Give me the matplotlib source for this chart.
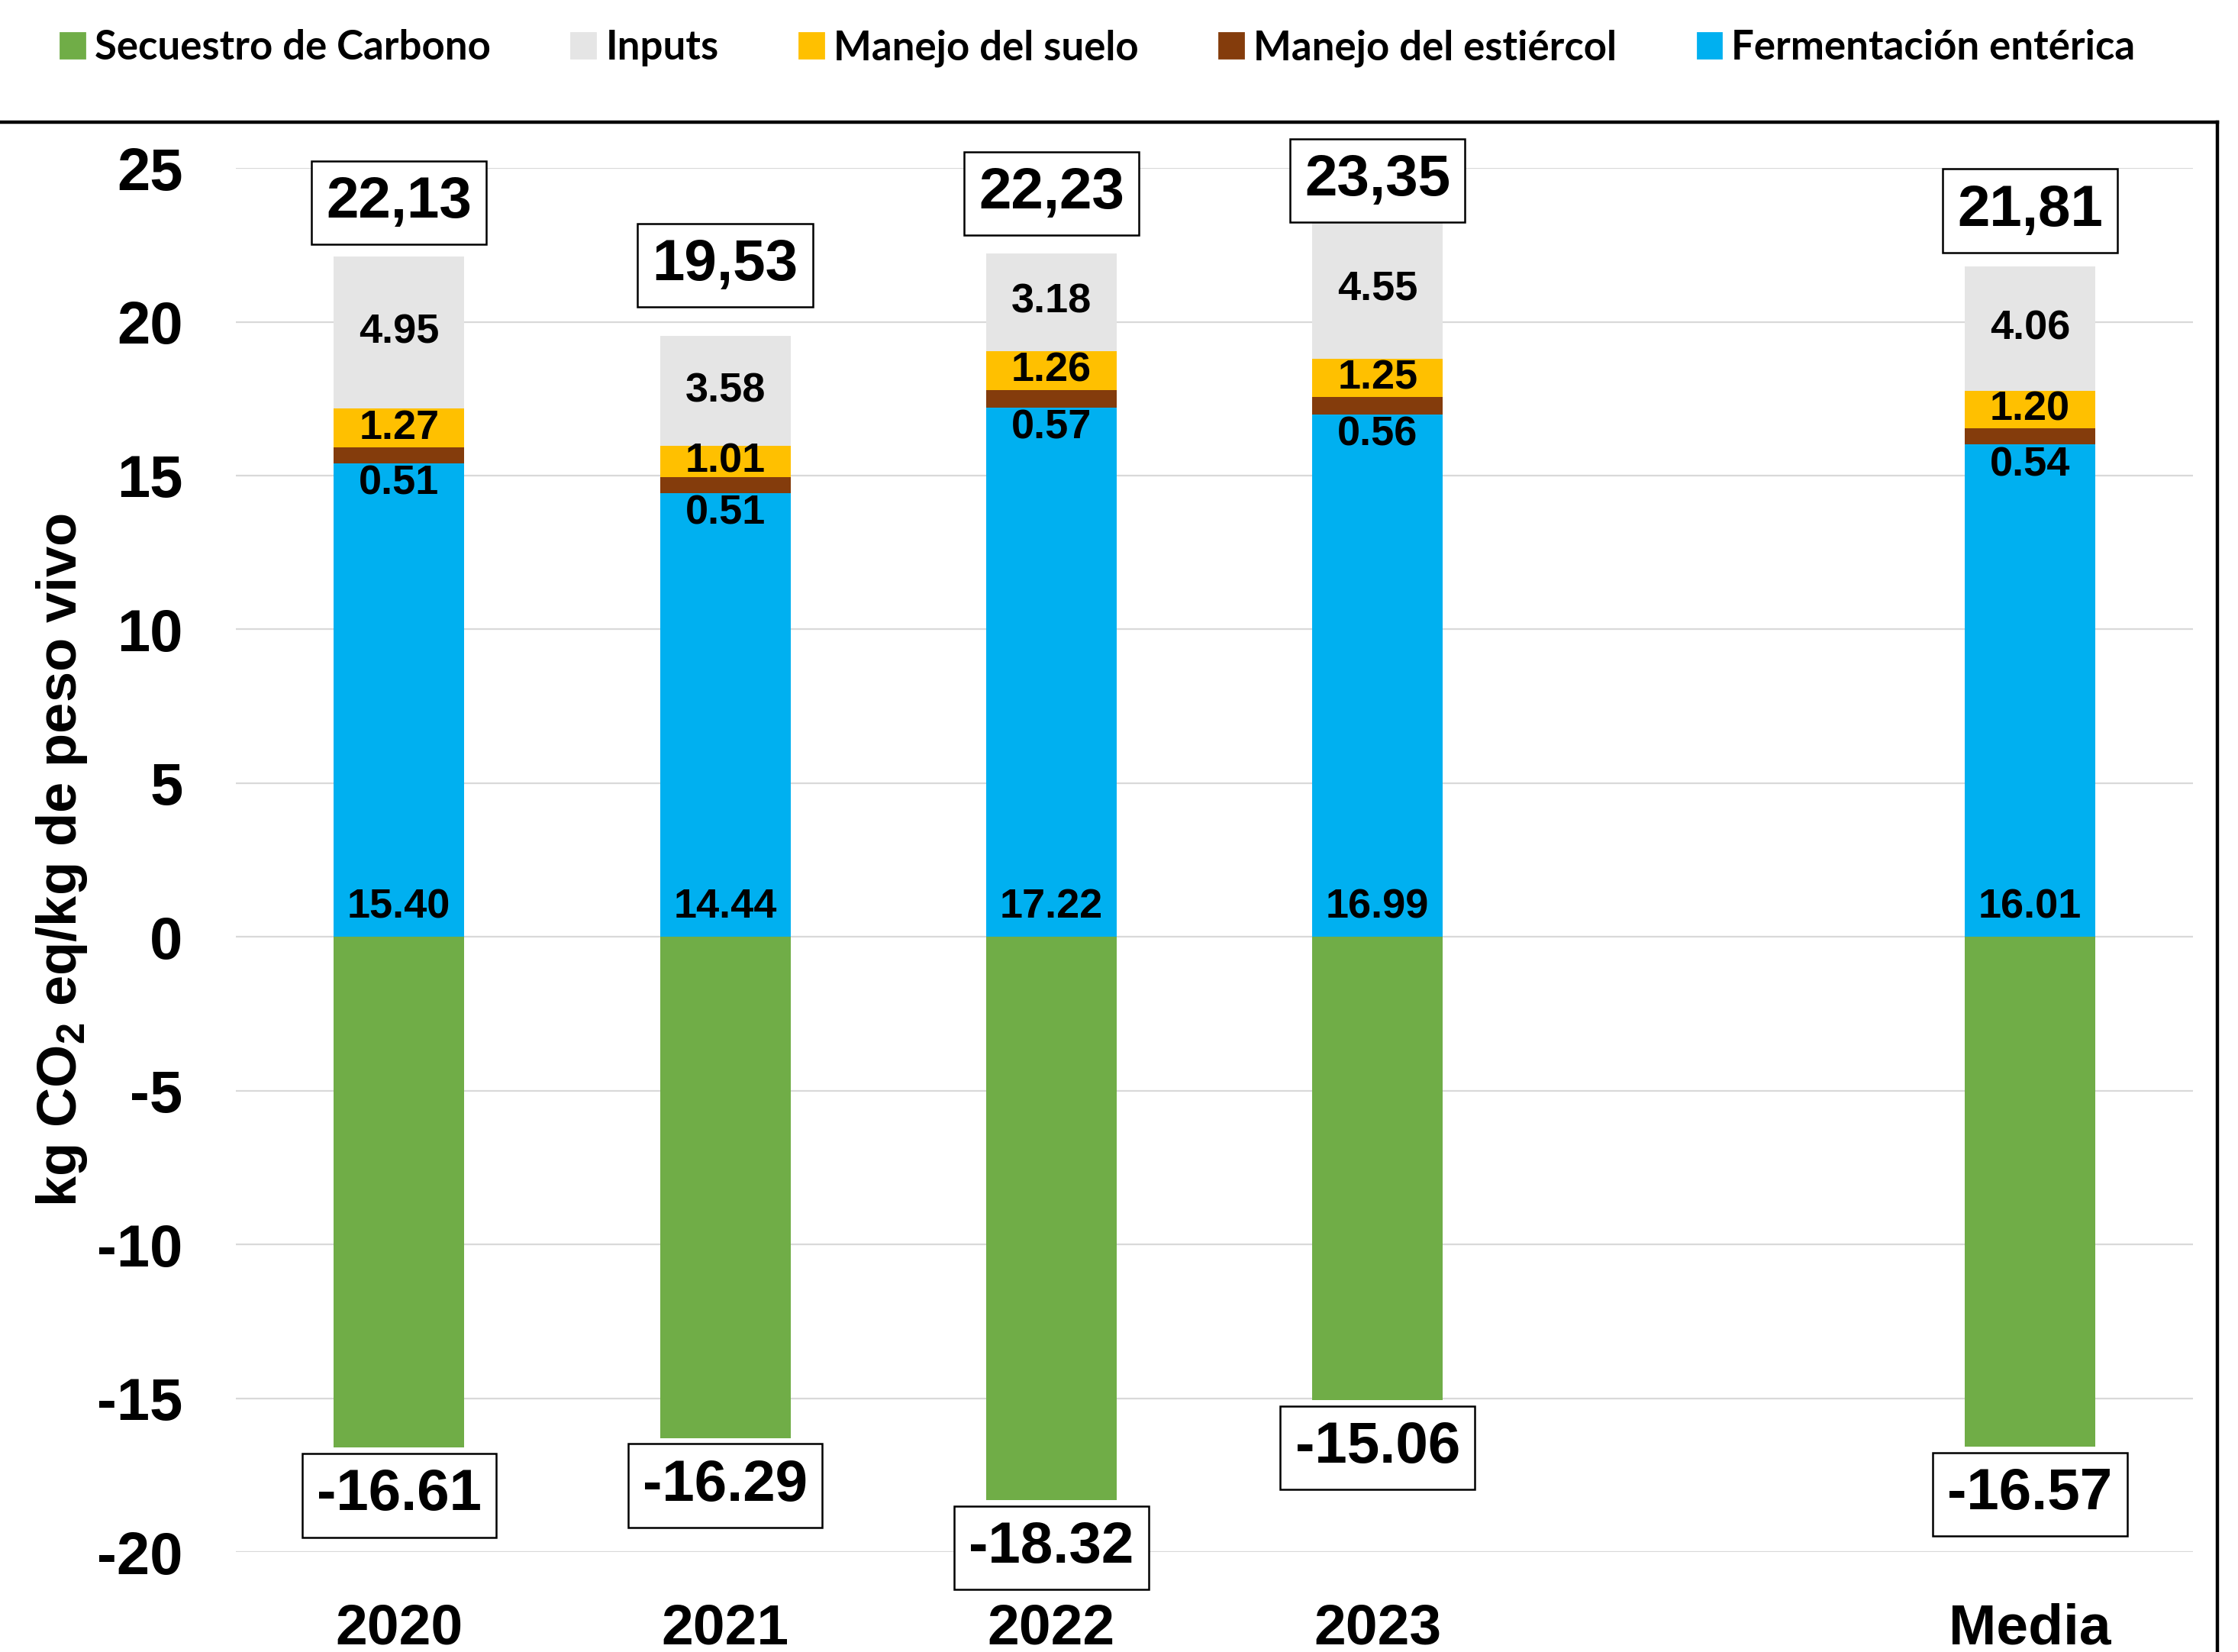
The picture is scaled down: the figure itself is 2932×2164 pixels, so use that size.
import matplotlib
matplotlib.use('Agg')
import numpy as np
import matplotlib.pyplot as plt
from matplotlib.patches import Patch
from matplotlib.lines import Line2D

plt.rcParams['font.family'] = ['Liberation Sans', 'DejaVu Sans']
plt.rcParams['font.weight'] = 'bold'
plt.rcParams['mathtext.fontset'] = 'custom'
plt.rcParams['mathtext.rm'] = 'Liberation Sans:bold'
plt.rcParams['mathtext.bf'] = 'Liberation Sans:bold'

# data
categories = ['2020', '2021', '2022', '2023', 'Media']
x_pos = [0, 1, 2, 3, 5]  # one empty slot before "Media"
enterica = [15.40, 14.44, 17.22, 16.99, 16.01]
estiercol = [0.51, 0.51, 0.57, 0.56, 0.54]
suelo = [1.27, 1.01, 1.26, 1.25, 1.20]
inputs = [4.95, 3.58, 3.18, 4.55, 4.06]
secuestro = [-16.61, -16.29, -18.32, -15.06, -16.57]
totales = [22.13, 19.53, 22.23, 23.35, 21.81]

# vertical offset of the boxed totals above each bar (manual in original)
total_dy = [1.75, 2.3, 1.95, 1.25, 1.8]

c_green = '#70AD47'
c_grey = '#E5E5E5'
c_yellow = '#FFC000'
c_brown = '#843C0C'
c_blue = '#00B0F0'

fig = plt.figure(figsize=(14.66, 10.82), dpi=200)
ax = fig.add_axes([0.1054, 0.0605, 0.8745, 0.8378])

x = np.array(x_pos)
ent = np.array(enterica)
est = np.array(estiercol)
sue = np.array(suelo)
inp = np.array(inputs)
w = 0.4

ax.bar(x, secuestro, w, color=c_green, zorder=2)
ax.bar(x, ent, w, color=c_blue, zorder=2)
ax.bar(x, est, w, bottom=ent, color=c_brown, zorder=2)
ax.bar(x, sue, w, bottom=ent + est, color=c_yellow, zorder=2)
ax.bar(x, inp, w, bottom=ent + est + sue, color=c_grey, zorder=2)

box = dict(boxstyle='square,pad=0.25', fc='white', ec='black', lw=0.9)
for i in range(len(x)):
    # enteric label at base
    ax.text(x[i], 0.35, f'{ent[i]:.2f}', ha='center', va='bottom', fontsize=19.5, zorder=4)
    # manure label just under the brown band
    ax.text(x[i], ent[i] - 0.05, f'{est[i]:.2f}', ha='center', va='top', fontsize=19.5, zorder=4)
    # soil label centred
    ax.text(x[i], ent[i] + est[i] + sue[i] / 2, f'{sue[i]:.2f}', ha='center', va='center',
            fontsize=19.5, zorder=4)
    # inputs label centred
    ax.text(x[i], ent[i] + est[i] + sue[i] + inp[i] / 2, f'{inp[i]:.2f}', ha='center',
            va='center', fontsize=19.5, zorder=4)
    # total boxed
    ax.text(x[i], totales[i] + total_dy[i], f'{totales[i]:.2f}'.replace('.', ','),
            ha='center', va='center', fontsize=27.5, bbox=box, zorder=5)
    # sequestration boxed
    ax.text(x[i], secuestro[i] - 1.55, f'{secuestro[i]:.2f}', ha='center', va='center',
            fontsize=27.5, bbox=box, zorder=5)

ax.set_xlim(-0.5, 5.5)
ax.set_ylim(-20, 25)
ax.set_yticks(np.arange(-20, 26, 5))
ax.set_yticklabels([str(v) for v in range(-20, 26, 5)])
ax.set_xticks(x)
ax.set_xticklabels(categories)
ax.tick_params(axis='y', length=0, pad=25, labelsize=28)
ax.tick_params(axis='x', length=0, pad=24, labelsize=27)
ax.grid(axis='y', color='#D9D9D9', lw=0.8, zorder=0)
ax.set_axisbelow(True)
for s in ax.spines.values():
    s.set_visible(False)

ax.set_ylabel(r'kg CO$_2$ eq/kg de peso vivo', fontsize=26, fontweight='bold')
ax.yaxis.set_label_coords(-0.075, 0.5)

# chart border (top and right)
fig.add_artist(Line2D([0, 0.9908], [0.926, 0.926], color='black', lw=1.6))
fig.add_artist(Line2D([0.9908, 0.9908], [0, 0.926], color='black', lw=1.6))

# legend on top
handles = [Patch(color=c_green, label='Secuestro de Carbono'),
           Patch(color=c_grey, label='Inputs'),
           Patch(color=c_yellow, label='Manejo del suelo'),
           Patch(color=c_brown, label='Manejo del estiércol'),
           Patch(color=c_blue, label='Fermentación entérica')]
fig.legend(handles=handles, loc='center left', bbox_to_anchor=(0.018, 0.971), ncol=5,
           frameon=False, prop={'family': 'Lato', 'weight': 'bold', 'size': 19},
           handlelength=0.6, handleheight=0.6, handletextpad=0.25, columnspacing=2.0,
           borderpad=0)

fig.savefig('out.png', dpi=200)
